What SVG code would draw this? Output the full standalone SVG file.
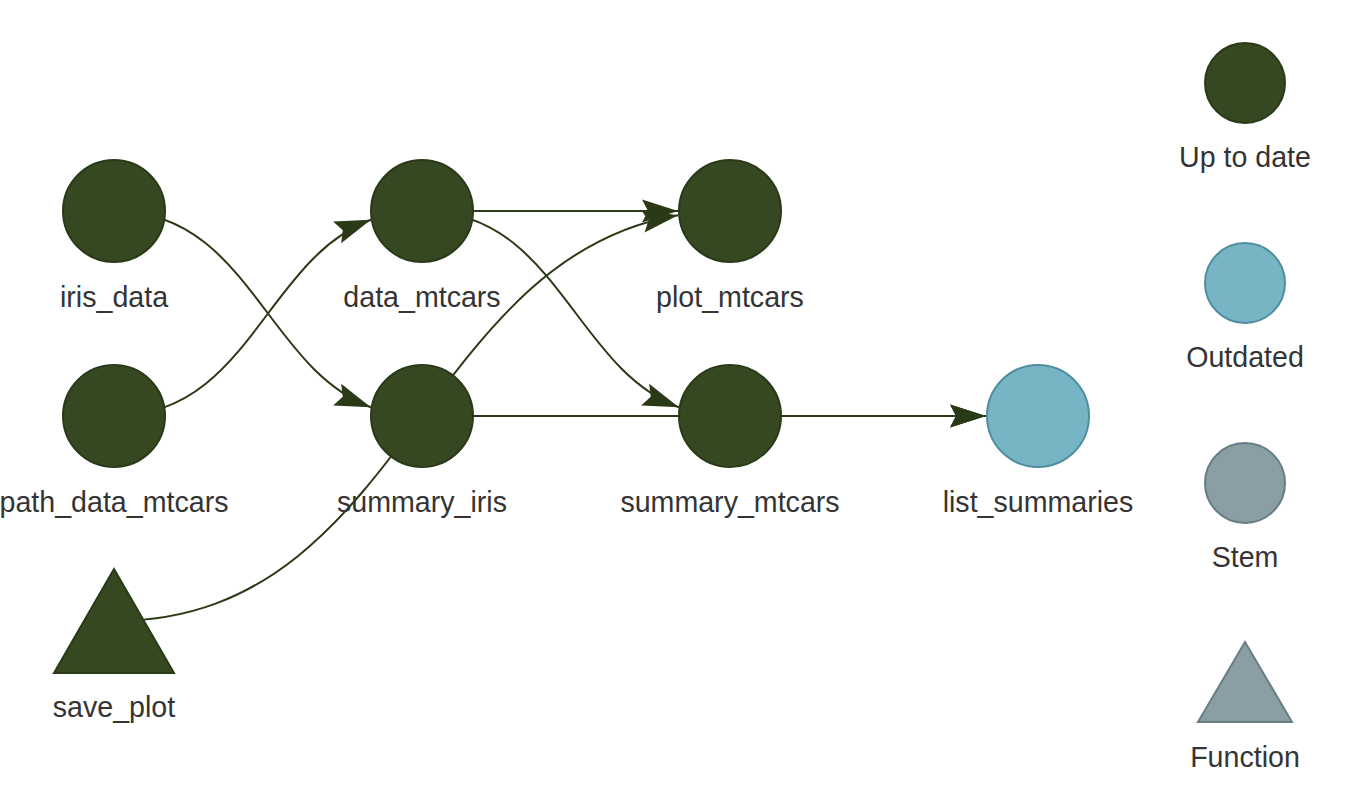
<svg xmlns="http://www.w3.org/2000/svg" width="1354" height="800" viewBox="0 0 1354 800">
<style>
.edge{fill:none;stroke:#2B3A16;stroke-width:2}
.uptodate{fill:#354822;stroke:#2A3A18;stroke-width:2}
.outdated{fill:#78B5C4;stroke:#4F8EA0;stroke-width:2}
.stem{fill:#8A9EA4;stroke:#687E87;stroke-width:2}
.lbl{font-family:"Liberation Sans",Arial,sans-serif;font-size:28.6px;fill:#343434;text-anchor:middle}
</style>
<defs>
<marker id="arrow" markerUnits="userSpaceOnUse" markerWidth="40" markerHeight="26" viewBox="-38 -13 40 26" refX="0" refY="0" orient="auto" overflow="visible">
<path d="M0,0 L-36,-11.5 L-30,0 L-36,11.5 Z" fill="#2B3A16"/>
</marker>
</defs>
<g id="connectors">
<path class="edge" d="M114,211 C248.75,211 265.59,367.95 370.87,407.19" marker-end="url(#arrow)"/>
<path class="edge" d="M114,416 C248.75,416 265.59,259.05 370.87,219.81" marker-end="url(#arrow)"/>
<path class="edge" d="M422,211 L678,211" marker-end="url(#arrow)"/>
<path class="edge" d="M422,211 C556.75,211 573.59,367.95 678.87,407.19" marker-end="url(#arrow)"/>
<path class="edge" d="M114,621 C403.67,621 420.91,258.34 678.16,215.18" marker-end="url(#arrow)"/>
<path class="edge" d="M422,416 L986,416" marker-end="url(#arrow)"/>
<path class="edge" d="M730,416 L986,416" marker-end="url(#arrow)"/>
</g>
<g id="iris_data"><circle class="uptodate" cx="114" cy="211" r="51"/><text class="lbl" x="114" y="307">iris_data</text></g>
<g id="path_data_mtcars"><circle class="uptodate" cx="114" cy="416" r="51"/><text class="lbl" x="114" y="512">path_data_mtcars</text></g>
<g id="save_plot"><polygon class="uptodate" points="114,569 54,673 174,673"/><text class="lbl" x="114" y="717">save_plot</text></g>
<g id="data_mtcars"><circle class="uptodate" cx="422" cy="211" r="51"/><text class="lbl" x="422" y="307">data_mtcars</text></g>
<g id="summary_iris"><circle class="uptodate" cx="422" cy="416" r="51"/><text class="lbl" x="422" y="512">summary_iris</text></g>
<g id="plot_mtcars"><circle class="uptodate" cx="730" cy="211" r="51"/><text class="lbl" x="730" y="307">plot_mtcars</text></g>
<g id="summary_mtcars"><circle class="uptodate" cx="730" cy="416" r="51"/><text class="lbl" x="730" y="512">summary_mtcars</text></g>
<g id="list_summaries"><circle class="outdated" cx="1038" cy="416" r="51"/><text class="lbl" x="1038" y="512">list_summaries</text></g>
<g id="legend_uptodate"><circle class="uptodate" cx="1245" cy="83" r="40"/><text class="lbl" x="1245" y="167">Up to date</text></g>
<g id="legend_outdated"><circle class="outdated" cx="1245" cy="283" r="40"/><text class="lbl" x="1245" y="367">Outdated</text></g>
<g id="legend_stem"><circle class="stem" cx="1245" cy="483" r="40"/><text class="lbl" x="1245" y="567">Stem</text></g>
<g id="legend_function"><polygon class="stem" points="1245,642 1198,722 1292,722"/><text class="lbl" x="1245" y="767">Function</text></g>
</svg>
